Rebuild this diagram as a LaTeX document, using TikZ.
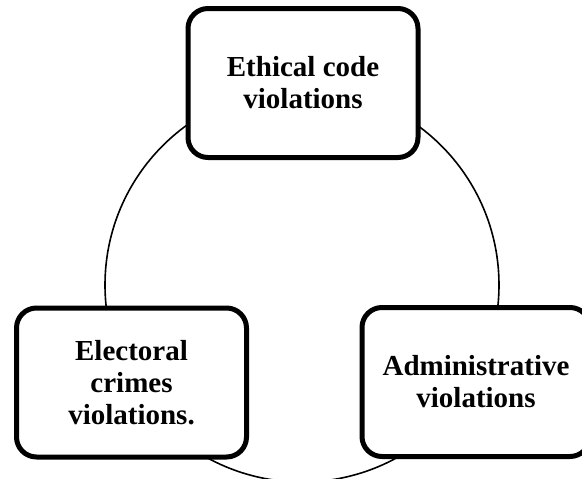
\documentclass[tikz,border=0pt]{standalone}
\usepackage{fontspec}
\setmainfont{Liberation Serif}

\begin{document}
\begin{tikzpicture}[
  x={(1pt,0pt)},
  y={(0pt,-1pt)},
  line join=round,
  line cap=round,
  box/.style={draw,line width=5pt,rounded corners=20pt,fill=white,
    minimum width=230pt,minimum height=149pt,align=center,
    font=\bfseries\fontsize{29}{32}\selectfont}
]

% ---------- parameters ----------
\def\R{197}          % ring radius

% ---------- canvas ----------
\clip (0,0) rectangle (582,479);

% ---------- ring ----------
\coordinate (C) at (302,285);
\draw[line width=1.6pt] (C) circle[radius=\R];

% ---------- boxes ----------
\node[box] (ethic) at (303,83) {Ethical code\\violations};
\node[box] (elect) at (131.5,382.5) {Electoral\\crimes\\violations.};
\node[box,minimum width=228pt] (admin) at (476,382) {Administrative\\violations};

\end{tikzpicture}
\end{document}
